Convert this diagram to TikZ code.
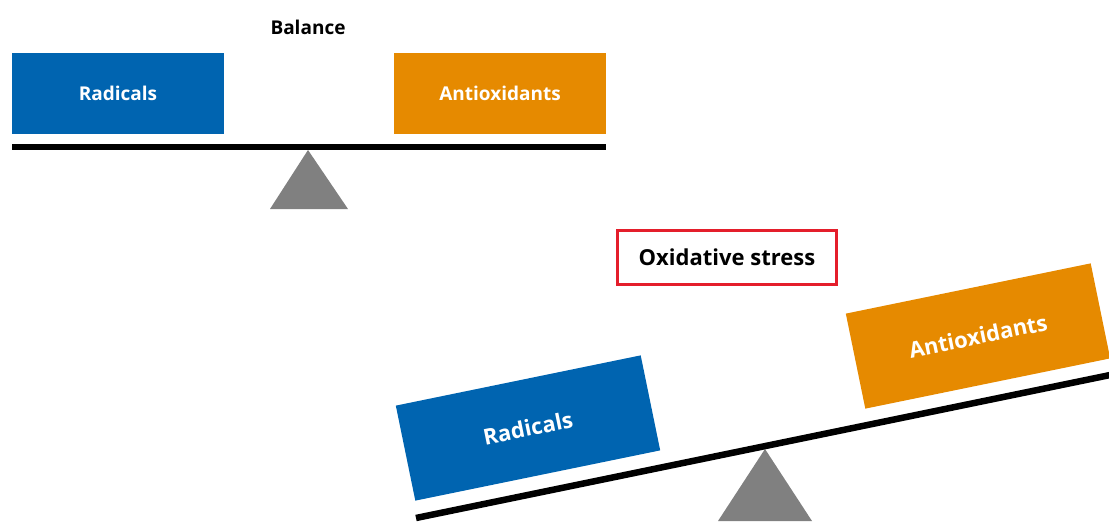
\documentclass[tikz,border=0pt]{standalone}
\usepackage{fontspec}
\setmainfont{Open Sans}
\definecolor{rblue}{HTML}{0064B0}
\definecolor{aorange}{HTML}{E68A00}
\definecolor{fgray}{HTML}{808080}
\definecolor{sred}{HTML}{E41E2B}
\tikzset{
  box/.style={minimum width=250pt, minimum height=97pt, inner sep=0pt, font=\bfseries\fontsize{22}{26}\selectfont, text=white},
  topbox/.style={minimum width=212pt, minimum height=81pt, inner sep=0pt, font=\bfseries\fontsize{19}{23}\selectfont, text=white},
  beam/.style={line width=5.5pt, black},
  fulcrum/.style={fill=fgray, draw=none},
  title/.style={font=\bfseries\fontsize{19}{23}\selectfont, text=black},
  bigtitle/.style={font=\bfseries\fontsize{22}{26}\selectfont, text=black}
}
\begin{document}
\begin{tikzpicture}[x=1pt,y=-1pt]
\useasboundingbox (0,0) rectangle (1109,523);
\begin{scope}
\clip (0,0) rectangle (1109,523);
% top balance
\node[title] (bal) at (308,27) {Balance};
\node[topbox, fill=rblue] (rad1) at (118,93.5) {Radicals};
\node[topbox, fill=aorange] (ant1) at (500,93.5) {Antioxidants};
\coordinate (b1l) at (12,147);
\coordinate (b1r) at (606,147);
\draw[beam] (b1l) -- (b1r);
\fill[fulcrum] (308,150) -- (348,209) -- (270,209) -- cycle;
% bottom oxidative stress
\node[bigtitle, draw=sred, line width=3pt, minimum width=219pt, minimum height=54pt] (ox) at (727,257.5) {Oxidative stress};
\fill[fulcrum] (765,449) -- (812,521) -- (718,521) -- cycle;
\coordinate (b2l) at (416,518);
\coordinate (b2r) at (1115,374);
\draw[beam, line width=6.5pt] (b2l) -- (b2r);
\node[box, fill=rblue, rotate=11.6] (rad2) at (528,428) {Radicals};
\node[box, fill=aorange, rotate=11.6] (ant2) at (978,336) {Antioxidants};
\end{scope}
\end{tikzpicture}
\end{document}
